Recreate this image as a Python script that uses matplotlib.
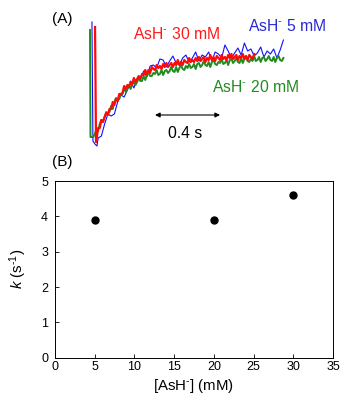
import matplotlib
matplotlib.use("Agg")
import matplotlib.pyplot as plt

plt.rcParams['font.family'] = ['Liberation Sans', 'DejaVu Sans']
plt.rcParams['mathtext.fontset'] = 'custom'
plt.rcParams['mathtext.rm'] = 'Liberation Sans'
plt.rcParams['mathtext.it'] = 'Liberation Sans:italic'
plt.rcParams['mathtext.bf'] = 'Liberation Sans:bold'

# ---- Panel A: kinetic traces (time in s, signal in arbitrary units) ----
t_blue = [0.012, 0.018, 0.03, 0.043,
          0.05, 0.07, 0.09, 0.11, 0.13, 0.15, 0.17, 0.19, 0.21, 0.23, 0.25, 0.27,
          0.29, 0.31, 0.33, 0.35, 0.37, 0.39, 0.41, 0.43, 0.45, 0.47, 0.49, 0.51,
          0.53, 0.55, 0.57, 0.59, 0.61, 0.63, 0.65, 0.67, 0.69, 0.71, 0.73, 0.75,
          0.77, 0.79, 0.81, 0.83, 0.85, 0.87, 0.89, 0.91, 0.93, 0.95, 0.97, 0.99,
          1.01, 1.03, 1.05, 1.07, 1.09, 1.11, 1.13, 1.15, 1.17, 1.19]
s_blue = [1.24, 0.05, 0.02, 0.00,
          0.08, 0.10, 0.22, 0.32, 0.30, 0.32, 0.44, 0.51, 0.49, 0.56, 0.65, 0.58,
          0.67, 0.67, 0.75, 0.69, 0.80, 0.81, 0.78, 0.87, 0.86, 0.79, 0.85, 0.90,
          0.83, 0.81, 0.88, 0.91, 0.84, 0.88, 0.94, 0.85, 0.91, 0.89, 0.94, 0.85,
          0.94, 0.92, 0.88, 1.01, 0.95, 0.88, 0.93, 0.98, 0.91, 1.03, 0.95, 0.97,
          0.90, 0.93, 0.99, 0.89, 0.95, 0.92, 0.97, 0.88, 0.96, 1.06]

t_green = [0.000, 0.003, 0.02,
           0.03, 0.04, 0.05, 0.06, 0.07, 0.08, 0.09, 0.10, 0.11, 0.12, 0.13, 0.14,
           0.15, 0.16, 0.17, 0.18, 0.19, 0.20, 0.21, 0.22, 0.23, 0.24, 0.25, 0.26,
           0.27, 0.28, 0.29, 0.30, 0.31, 0.32, 0.33, 0.34, 0.35, 0.36, 0.37, 0.38,
           0.39, 0.40, 0.41, 0.42, 0.43, 0.44, 0.45, 0.46, 0.47, 0.48, 0.49, 0.50,
           0.51, 0.52, 0.53, 0.54, 0.55, 0.56, 0.57, 0.58, 0.59, 0.60, 0.61, 0.62,
           0.63, 0.64, 0.65, 0.66, 0.67, 0.68, 0.69, 0.70, 0.71, 0.72, 0.73, 0.74,
           0.75, 0.76, 0.77, 0.78, 0.79, 0.80, 0.81, 0.82, 0.83, 0.84, 0.85, 0.86,
           0.87, 0.88, 0.89, 0.90, 0.91, 0.92, 0.93, 0.94, 0.95, 0.96, 0.97, 0.98,
           0.99, 1.00, 1.01, 1.02, 1.03, 1.04, 1.05, 1.06, 1.07, 1.08, 1.09, 1.10,
           1.11, 1.12, 1.13, 1.14, 1.15, 1.16, 1.17, 1.18, 1.19]
s_green = [1.16, 0.09, 0.09,
           0.12, 0.17, 0.15, 0.22, 0.26, 0.25, 0.29, 0.34, 0.33, 0.34, 0.40, 0.37,
           0.44, 0.48, 0.46, 0.47, 0.52, 0.52, 0.58, 0.54, 0.57, 0.61, 0.57, 0.62,
           0.64, 0.61, 0.64, 0.68, 0.65, 0.65, 0.70, 0.66, 0.71, 0.73, 0.70, 0.70,
           0.73, 0.72, 0.76, 0.71, 0.72, 0.76, 0.71, 0.75, 0.76, 0.73, 0.75, 0.79,
           0.75, 0.74, 0.79, 0.74, 0.78, 0.81, 0.77, 0.76, 0.80, 0.78, 0.82, 0.78,
           0.79, 0.82, 0.77, 0.82, 0.83, 0.79, 0.81, 0.85, 0.81, 0.80, 0.84, 0.79,
           0.84, 0.86, 0.82, 0.81, 0.84, 0.83, 0.87, 0.82, 0.83, 0.86, 0.81, 0.86,
           0.87, 0.83, 0.85, 0.88, 0.84, 0.83, 0.88, 0.83, 0.87, 0.89, 0.85, 0.84,
           0.87, 0.85, 0.90, 0.85, 0.86, 0.89, 0.84, 0.88, 0.89, 0.85, 0.87, 0.90,
           0.86, 0.85, 0.89, 0.84, 0.88, 0.90, 0.86, 0.85, 0.88]

t_red = [0.031, 0.037, 0.043,
         0.05, 0.06, 0.07, 0.08, 0.09, 0.10, 0.11, 0.12, 0.13, 0.14, 0.15, 0.16,
         0.17, 0.18, 0.19, 0.20, 0.21, 0.22, 0.23, 0.24, 0.25, 0.26, 0.27, 0.28,
         0.29, 0.30, 0.31, 0.32, 0.33, 0.34, 0.35, 0.36, 0.37, 0.38, 0.39, 0.40,
         0.41, 0.42, 0.43, 0.44, 0.45, 0.46, 0.47, 0.48, 0.49, 0.50, 0.51, 0.52,
         0.53, 0.54, 0.55, 0.56, 0.57, 0.58, 0.59, 0.60, 0.61, 0.62, 0.63, 0.64,
         0.65, 0.66, 0.67, 0.68, 0.69, 0.70, 0.71, 0.72, 0.73, 0.74, 0.75, 0.76,
         0.77, 0.78, 0.79, 0.80, 0.81, 0.82, 0.83, 0.84, 0.85, 0.86, 0.87, 0.88,
         0.89, 0.90, 0.91, 0.92, 0.93, 0.94, 0.95, 0.96, 0.97, 0.98, 0.99, 1.00,
         1.01]
s_red = [1.19, 0.04, 0.10,
         0.18, 0.18, 0.26, 0.24, 0.29, 0.33, 0.31, 0.37, 0.37, 0.44, 0.41, 0.47,
         0.45, 0.52, 0.52, 0.53, 0.60, 0.57, 0.61, 0.59, 0.64, 0.62, 0.68, 0.64,
         0.67, 0.70, 0.67, 0.72, 0.71, 0.76, 0.72, 0.76, 0.73, 0.79, 0.77, 0.76,
         0.81, 0.78, 0.80, 0.77, 0.82, 0.79, 0.83, 0.79, 0.81, 0.83, 0.79, 0.83,
         0.81, 0.86, 0.81, 0.84, 0.81, 0.86, 0.84, 0.83, 0.88, 0.84, 0.86, 0.84,
         0.88, 0.85, 0.89, 0.85, 0.87, 0.89, 0.84, 0.88, 0.86, 0.91, 0.86, 0.89,
         0.85, 0.90, 0.88, 0.86, 0.91, 0.87, 0.89, 0.86, 0.91, 0.88, 0.92, 0.87,
         0.89, 0.91, 0.86, 0.90, 0.88, 0.92, 0.87, 0.90, 0.86, 0.91, 0.89, 0.87,
         0.92]

scale_bar = [0.40, 0.80]

# ---- Panel B: rate constants ----
conc = [5, 20, 30]
k_vals = [3.9, 3.9, 4.6]
x_ticks = [0, 5, 10, 15, 20, 25, 30, 35]
y_ticks = [0, 1, 2, 3, 4, 5]

W, H = 340, 398
fig = plt.figure(figsize=(W / 100, H / 100), dpi=100)

# Panel A
axA = fig.add_axes([80 / W, 1 - 150 / H, 220 / W, 135 / H])
axA.plot(t_blue, s_blue, color='#1010ff', lw=0.8)
axA.plot(t_green, s_green, color='#1e8c1e', lw=1.4)
axA.plot(t_red, s_red, color='#ff0a0a', lw=1.6)
axA.set_xlim(-0.0615, 1.292)
axA.set_ylim(-0.04, 1.31)
axA.axis('off')
axA.annotate('', xy=(scale_bar[0], 0.31), xytext=(scale_bar[1], 0.31),
             arrowprops=dict(arrowstyle='<|-|>', color='black', lw=0.8,
                             mutation_scale=7, shrinkA=0, shrinkB=0))
axA.text((scale_bar[0] + scale_bar[1]) / 2 - 0.015, 0.12, '0.4 s', ha='center', va='center',
         fontsize=11.3)

sup = '$^{\u2010}$'
fig.text(133 / W, 1 - 34 / H, 'AsH' + sup + ' 30 mM', color='#ff1a1a', fontsize=11.3,
         ha='left', va='center')
fig.text(248 / W, 1 - 26 / H, 'AsH' + sup + ' 5 mM', color='#2a2ad0', fontsize=11.3,
         ha='left', va='center')
fig.text(212 / W, 1 - 87 / H, 'AsH' + sup + ' 20 mM', color='#228b22', fontsize=11.3,
         ha='left', va='center')
fig.text(52 / W, 1 - 19 / H, '(A)', fontsize=11, ha='left', va='center')
fig.text(52 / W, 1 - 162 / H, '(B)', fontsize=11, ha='left', va='center')

# Panel B
axB = fig.add_axes([55 / W, 1 - 357.7 / H, 278 / W, 176.7 / H])
axB.plot(conc, k_vals, 'o', color='black', markersize=5)
axB.set_xlim(0, 35)
axB.set_ylim(0, 5)
axB.set_xticks(x_ticks)
axB.set_yticks(y_ticks)
axB.tick_params(direction='in', length=3, width=0.6, labelsize=9)
axB.tick_params(axis='x', pad=2.5)
axB.tick_params(axis='y', pad=5)
for sp in axB.spines.values():
    sp.set_linewidth(0.7)
axB.set_xlabel('[AsH' + sup + '] (mM)', fontsize=10.8, labelpad=3)
axB.set_ylabel('$k$ (s$^{\u20101}$)', fontsize=10.8, labelpad=9)

fig.savefig('out.png', dpi=100)
